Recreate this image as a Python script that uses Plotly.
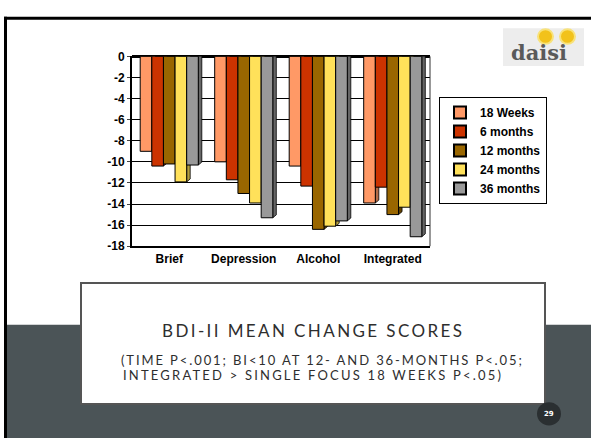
import plotly.graph_objects as go

categories = ["Brief", "Depression", "Alcohol", "Integrated"]
series_names = ["18 Weeks", "6 months", "12 months", "24 months", "36 months"]
series_colors = ["#FF9966", "#CC3300", "#996600", "#FFE15A", "#999999"]
side_colors = ["#B36B47", "#8A2300", "#634200", "#B39E3F", "#666666"]

weeks18 = [-9.0, -10.0, -10.4, -13.9]
months6 = [-10.4, -11.7, -12.3, -12.4]
months12 = [-10.2, -13.0, -16.4, -15.0]
months24 = [-11.9, -13.9, -16.1, -14.3]
months36 = [-10.3, -15.3, -15.6, -17.1]
series_values = [weeks18, months6, months12, months24, months36]

y_ticks = [0, -2, -4, -6, -8, -10, -12, -14, -16, -18]

W, H = 591, 445
BARGAP = 0.22
# pixel extent of the plot area, also used to size the 3-D side faces
X0_PX, X1_PX = 132, 430
Y0_PX, Y1_PX = 51, 247
unit_x = (X1_PX - X0_PX) / len(categories)
unit_y = (Y1_PX - Y0_PX) / 18.0
DEPTH_X = 3.5 / unit_x
DEPTH_Y = 3.0 / unit_y

fig = go.Figure()
for name, vals, col in zip(series_names, series_values, series_colors):
    fig.add_trace(go.Bar(
        x=list(range(len(categories))), y=vals, name=name,
        marker=dict(color=col, line=dict(color="#000000", width=1)),
    ))


def px_x(p):
    return p / W


def px_y(p):
    return 1 - p / H


shapes = [
    # dark lower band of the slide
    dict(type="rect", xref="paper", yref="paper", x0=px_x(6), x1=1, y0=0, y1=px_y(328),
         fillcolor="#4B5457", line=dict(width=0), layer="below"),
    # slide frame lines (top, left)
    dict(type="line", xref="paper", yref="paper", x0=px_x(4), x1=1, y0=px_y(11.5), y1=px_y(11.5),
         line=dict(color="#000000", width=3)),
    dict(type="line", xref="paper", yref="paper", x0=px_x(5.5), x1=px_x(5.5), y0=0, y1=px_y(10),
         line=dict(color="#000000", width=3)),
    # back-wall right edge of the chart
    dict(type="line", xref="paper", yref="paper", x0=px_x(X1_PX), x1=px_x(X1_PX),
         y0=px_y(Y1_PX), y1=px_y(Y0_PX), line=dict(color="#333333", width=1)),
    # caption box
    dict(type="rect", xref="paper", yref="paper", x0=px_x(81), x1=px_x(545), y0=px_y(410), y1=px_y(285),
         fillcolor="#FFFFFF", line=dict(color="#555555", width=2)),
    # page number badge
    dict(type="circle", xref="paper", yref="paper", x0=px_x(537), x1=px_x(561), y0=px_y(432), y1=px_y(408),
         fillcolor="#2A2F31", line=dict(width=0)),
    # logo tile
    dict(type="rect", xref="paper", yref="paper", x0=px_x(503), x1=px_x(584), y0=px_y(61), y1=px_y(22),
         fillcolor="#EDEDED", line=dict(width=0), layer="below"),
    dict(type="circle", xref="paper", yref="paper", x0=px_x(538), x1=px_x(553), y0=px_y(38), y1=px_y(23),
         fillcolor="#F2C21B", line=dict(color="#F8E27A", width=2)),
    dict(type="circle", xref="paper", yref="paper", x0=px_x(560), x1=px_x(575), y0=px_y(38), y1=px_y(23),
         fillcolor="#F2C21B", line=dict(color="#F8E27A", width=2)),
]

# right-hand depth faces of every bar (drawn between grid and bars so that
# the next bar in the group hides the covered part)
n_series = len(series_values)
bar_w = (1 - BARGAP) / n_series
for j, (vals, scol) in enumerate(zip(series_values, side_colors)):
    for i, v in enumerate(vals):
        xr = i - (1 - BARGAP) / 2 + bar_w * (j + 1)
        path = (f"M {xr},0 L {xr + DEPTH_X},{DEPTH_Y} L {xr + DEPTH_X},{v + DEPTH_Y} "
                f"L {xr},{v} Z")
        shapes.append(dict(type="path", xref="x", yref="y", path=path,
                           fillcolor=scol, line=dict(color="#000000", width=0.8),
                           layer="between"))

annotations = [
    dict(text="<b>daisi</b>", xref="paper", yref="paper", x=px_x(539), y=px_y(47), showarrow=False,
         font=dict(family="DejaVu Serif", size=21, color="#5A5A5A"), xanchor="center", yanchor="middle"),
    dict(text='<span style="letter-spacing:2.4px">BDI-II MEAN CHANGE SCORES</span>',
         xref="paper", yref="paper", x=px_x(313), y=px_y(334),
         showarrow=False, font=dict(family="Lato", size=17, color="#2E2E2E"),
         xanchor="center", yanchor="middle"),
    dict(text='<span style="letter-spacing:1.9px">(TIME P&lt;.001; BI&lt;10 AT 12- AND 36-MONTHS P&lt;.05;</span>',
         xref="paper", yref="paper", x=px_x(322), y=px_y(364), showarrow=False,
         font=dict(family="Lato", size=13, color="#2E2E2E"), xanchor="center", yanchor="middle"),
    dict(text='<span style="letter-spacing:2.2px">INTEGRATED &gt; SINGLE FOCUS 18 WEEKS P&lt;.05)</span>',
         xref="paper", yref="paper", x=px_x(313), y=px_y(380), showarrow=False,
         font=dict(family="Lato", size=13, color="#2E2E2E"), xanchor="center", yanchor="middle"),
    dict(text="<b>29</b>", xref="paper", yref="paper", x=px_x(549), y=px_y(420), showarrow=False,
         font=dict(family="DejaVu Sans", size=7, color="#FFFFFF"), xanchor="center", yanchor="middle"),
]

fig.update_layout(
    width=W, height=H,
    margin=dict(l=0, r=0, t=0, b=0),
    paper_bgcolor="#FFFFFF", plot_bgcolor="#FFFFFF",
    barmode="group", bargap=BARGAP, bargroupgap=0,
    font=dict(family="Arial, Liberation Sans", color="#000000"),
    showlegend=True,
    legend=dict(
        x=px_x(439), y=px_y(93), xanchor="left", yanchor="top",
        bgcolor="#FFFFFF", bordercolor="#000000", borderwidth=1,
        font=dict(family="Arial, Liberation Sans", size=12, color="#000000", weight="bold"),
        itemsizing="constant", tracegroupgap=0,
    ),
    xaxis=dict(
        domain=[px_x(X0_PX), px_x(X1_PX)],
        range=[-0.5, len(categories) - 0.5],
        tickvals=list(range(len(categories))), ticktext=categories,
        showgrid=False, showline=True, linecolor="#000000", linewidth=2, mirror=False,
        tickfont=dict(size=12, weight="bold"), ticks="",
    ),
    yaxis=dict(
        domain=[px_y(Y1_PX), px_y(Y0_PX)],
        range=[-18, 0], tickvals=y_ticks, ticktext=[str(v) for v in y_ticks],
        showgrid=True, gridcolor="#000000", gridwidth=1,
        showline=True, linecolor="#000000", linewidth=2, mirror=False,
        zeroline=True, zerolinecolor="#000000", zerolinewidth=3,
        tickfont=dict(size=12, weight="bold"), ticks="outside", ticklen=3,
    ),
    shapes=shapes,
    annotations=annotations,
)

fig.write_html("out.html")
